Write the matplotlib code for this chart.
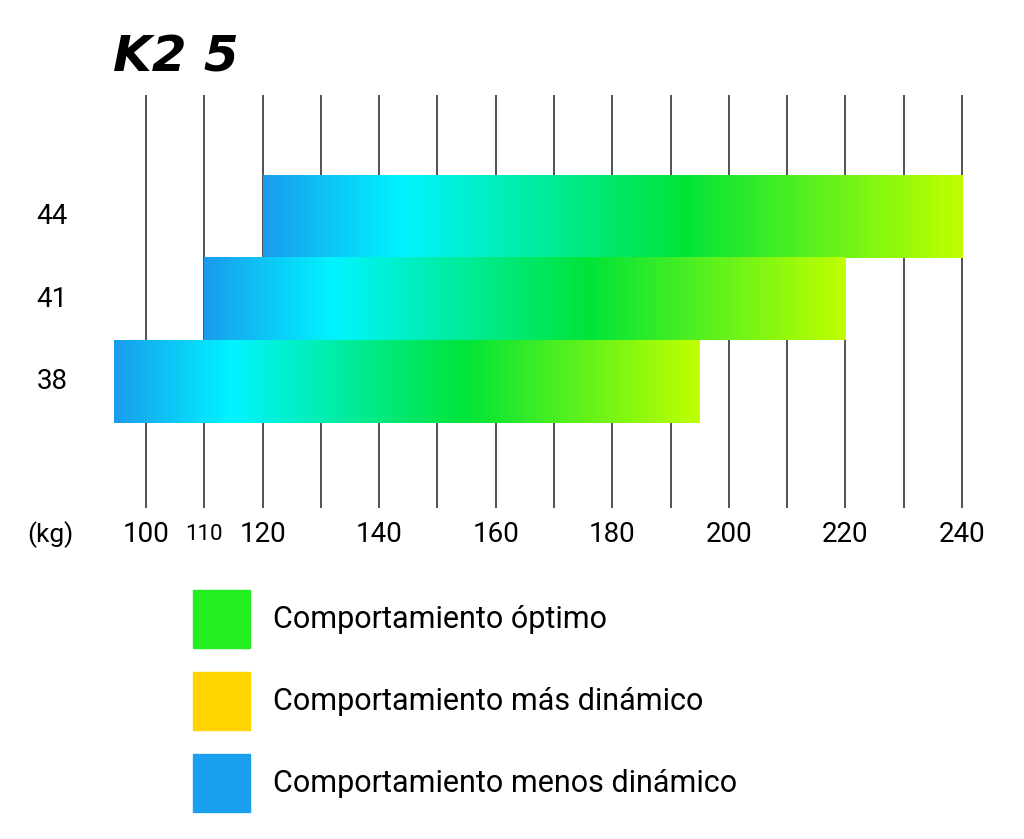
import matplotlib
matplotlib.use("Agg")
import matplotlib.pyplot as plt
import numpy as np
from matplotlib.colors import LinearSegmentedColormap
from matplotlib.patches import Rectangle

sizes = ["38", "41", "44"]
starts = [94.5, 110, 120]
ends = [195, 220, 240]
grid_vals = list(range(100, 241, 10))
tick_vals = [100, 110, 120, 140, 160, 180, 200, 220, 240]
legend_labels = ["Comportamiento óptimo", "Comportamiento más dinámico", "Comportamiento menos dinámico"]
legend_colors = ["#22ee22", "#ffd400", "#1aa0ee"]

W, H = 1024, 839
fig = plt.figure(figsize=(W/100, H/100), dpi=100)
ppu = (962-146)/140
left = 146 - 10*ppu
right = 962 + 5*ppu
ax = fig.add_axes([left/W, 1-508/H, (right-left)/W, (508-95)/H])
ax.set_xlim(90, 245)
ax.set_ylim(-1.53, 3.47)
ax.axis("off")

for g in grid_vals:
    ax.axvline(g, color="#222222", lw=1.1, zorder=0)

cmap = LinearSegmentedColormap.from_list("g", [(0, "#1a9cee"), (0.2, "#00f4ff"), (0.6, "#00e438"), (1, "#bfff00")])
grad = np.linspace(0, 1, 256).reshape(1, -1)
for i, (s, e) in enumerate(zip(starts, ends)):
    ax.imshow(grad, cmap=cmap, aspect="auto", extent=[s, e, i-0.5, i+0.5], zorder=2 + (2 - i))
    fig.text(52/W, 1-(508-(i+1.53)*82.6)/H, sizes[i], ha="center", va="center", fontsize=20, family="Roboto")

for t in tick_vals:
    fs = 16 if t == 110 else 20
    fig.text((146+(t-100)*ppu)/W, 1-535/H, str(t), ha="center", va="center", fontsize=fs, family="Roboto")
fig.text(50/W, 1-535/H, "(kg)", ha="center", va="center", fontsize=19, family="Roboto")

fig.text(113/W, 1-58/H, "K2 5", ha="left", va="center", fontsize=36, fontweight="bold", style="italic", family="DejaVu Sans")

for j, (lab, c) in enumerate(zip(legend_labels, legend_colors)):
    yc = 619 + j*82
    fig.patches.append(Rectangle((193/W, 1-(yc+29)/H), 57/W, 58/H, transform=fig.transFigure, color=c))
    fig.text(273/W, 1-yc/H, lab, ha="left", va="center", fontsize=22, family="Roboto")

fig.savefig("out.png", dpi=100, facecolor="white")
